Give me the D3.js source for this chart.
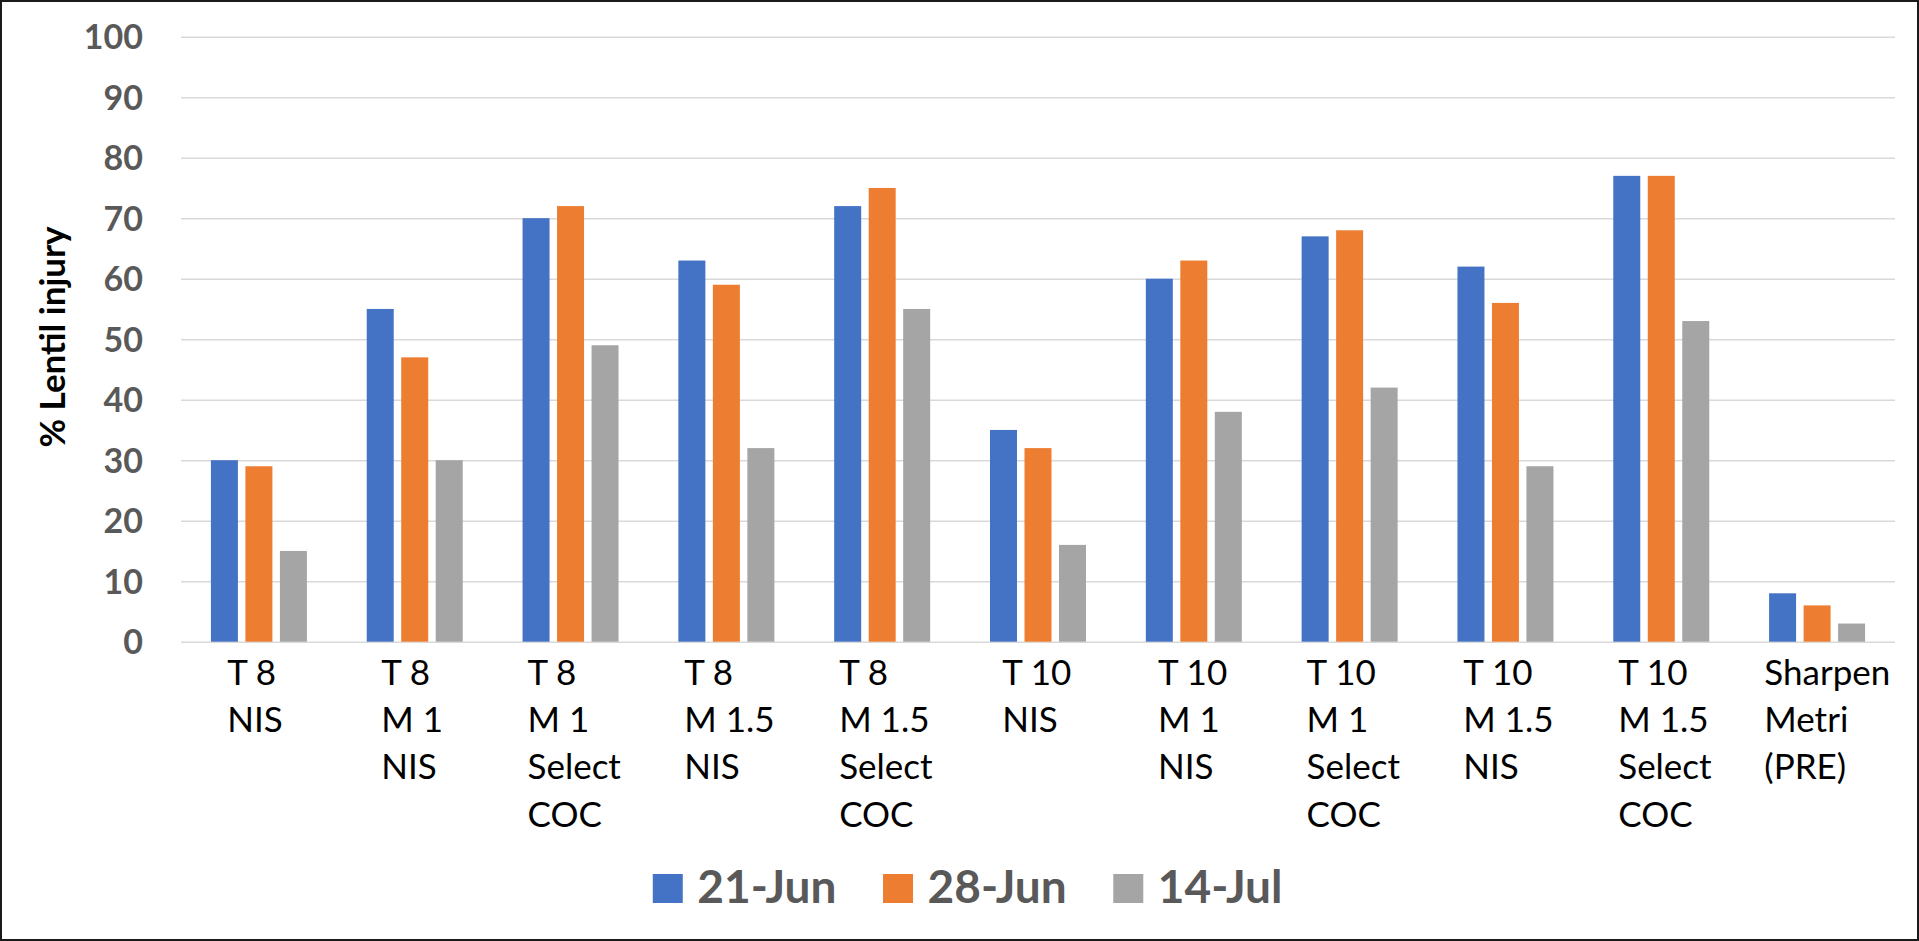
<!DOCTYPE html>
<html>
<head>
<meta charset="utf-8">
<script src="https://cdn.jsdelivr.net/npm/d3@7"></script>
<style>
  html, body { margin: 0; padding: 0; background: #ffffff; }
  svg { display: block; }
</style>
</head>
<body>
<svg id="chart" width="1919" height="941"></svg>
<script>
// Treatments (multi-line category labels)
const categories = [
  ["T 8", "NIS"],
  ["T 8", "M 1", "NIS"],
  ["T 8", "M 1", "Select", "COC"],
  ["T 8", "M 1.5", "NIS"],
  ["T 8", "M 1.5", "Select", "COC"],
  ["T 10", "NIS"],
  ["T 10", "M 1", "NIS"],
  ["T 10", "M 1", "Select", "COC"],
  ["T 10", "M 1.5", "NIS"],
  ["T 10", "M 1.5", "Select", "COC"],
  ["Sharpen", "Metri", "(PRE)"]
];

// Rating dates
const seriesNames = ["21-Jun", "28-Jun", "14-Jul"];

// % lentil injury per rating date
const injury21Jun = [30, 55, 70, 63, 72, 35, 60, 67, 62, 77, 8];
const injury28Jun = [29, 47, 72, 59, 75, 32, 63, 68, 56, 77, 6];
const injury14Jul = [15, 30, 49, 32, 55, 16, 38, 42, 29, 53, 3];

const seriesColors = ["#4472C4", "#ED7D31", "#A5A5A5"];

const yTicks = [0, 10, 20, 30, 40, 50, 60, 70, 80, 90, 100];
const yTitle = "% Lentil injury";

const seriesValues = [injury21Jun, injury28Jun, injury14Jul];
const catKeys = categories.map(c => c.join(" "));

const svg = d3.select("#chart");
const W = 1919, H = 941;

// chart frame
svg.append("rect")
  .attr("x", 0).attr("y", 0).attr("width", W).attr("height", H)
  .attr("fill", "#ffffff");

const plot = { left: 181, right: 1895, top: 36.7, bottom: 641.7 };

const x0 = d3.scaleBand().domain(catKeys).range([plot.left, plot.right]).padding(0);
const x1 = d3.scaleBand().domain(seriesNames).range([0, x0.bandwidth()])
  .paddingInner(0.2174).paddingOuter(0.867);
const y = d3.scaleLinear().domain([0, 100]).range([plot.bottom, plot.top]);

// gridlines
const grid = d3.axisLeft(y).tickValues(yTicks).tickSize(-(plot.right - plot.left)).tickFormat("");
const gridG = svg.append("g").attr("transform", `translate(${plot.left},0)`).call(grid);
gridG.select(".domain").remove();
gridG.selectAll(".tick line").attr("stroke", "#d9d9d9").attr("stroke-width", 1.4);

// y tick labels
const yAxis = d3.axisLeft(y).tickValues(yTicks).tickSize(0).tickPadding(0);
const yG = svg.append("g").attr("transform", "translate(143,0)").call(yAxis);
yG.select(".domain").remove();
yG.selectAll(".tick text")
  .attr("font-family", "Lato, 'Open Sans', sans-serif")
  .attr("font-weight", 700)
  .attr("font-size", 34)
  .attr("fill", "#595959")
  .attr("dy", null)
  .attr("y", 12)
  .attr("text-anchor", "end");

// bars
const groups = svg.append("g").selectAll("g")
  .data(catKeys)
  .join("g")
  .attr("transform", d => `translate(${x0(d)},0)`);

groups.selectAll("rect")
  .data((d, i) => seriesNames.map((s, j) => ({ s, j, v: seriesValues[j][i] })))
  .join("rect")
  .attr("x", d => x1(d.s))
  .attr("width", x1.bandwidth())
  .attr("y", d => y(d.v))
  .attr("height", d => y(0) - y(d.v))
  .attr("fill", d => seriesColors[d.j]);

// category labels: lines left-aligned, block roughly centered on the group
const catFont = "Lato, 'Open Sans', sans-serif";
const catG = svg.append("g");
categories.forEach((lines, i) => {
  const cx = x0(catKeys[i]) + x0.bandwidth() / 2;
  const t = catG.append("text")
    .attr("font-family", catFont)
    .attr("font-size", 35)
    .attr("fill", "#000000");
  lines.forEach((ln, k) => {
    t.append("tspan").attr("x", 0).attr("y", 685 + k * 47.2).text(ln);
  });
  let maxW = 0;
  t.selectAll("tspan").each(function () {
    maxW = Math.max(maxW, this.getComputedTextLength());
  });
  const left = cx - (0.3 * maxW + 15);
  t.selectAll("tspan").attr("x", left);
});

// y axis title
svg.append("text")
  .attr("transform", "translate(65,337) rotate(-90)")
  .attr("text-anchor", "middle")
  .attr("font-family", "Lato, 'Open Sans', sans-serif")
  .attr("font-weight", 700)
  .attr("font-size", 35)
  .attr("fill", "#000000")
  .text(yTitle);

// legend
const legend = svg.append("g");
const legItems = legend.selectAll("g").data(seriesNames).join("g");
legItems.append("rect")
  .attr("width", 30).attr("height", 29)
  .attr("y", 874)
  .attr("fill", (d, i) => seriesColors[i]);
legItems.append("text")
  .attr("y", 903)
  .attr("font-family", "Lato, 'Open Sans', sans-serif")
  .attr("font-weight", 700)
  .attr("font-size", 46)
  .attr("fill", "#595959")
  .text(d => d);

const sq = 30, gapIn = 14.5, gapOut = 46.6;
const widths = [];
legItems.select("text").each(function () { widths.push(this.getComputedTextLength()); });
const total = widths.reduce((a, w) => a + sq + gapIn + w, 0) + gapOut * (widths.length - 1);
let lx = 967.6 - total / 2;
legItems.each(function (d, i) {
  const g = d3.select(this);
  g.select("rect").attr("x", lx);
  g.select("text").attr("x", lx + sq + gapIn);
  lx += sq + gapIn + widths[i] + gapOut;
});

// outer border
svg.append("rect")
  .attr("x", 1).attr("y", 1).attr("width", W - 2).attr("height", H - 2)
  .attr("fill", "none").attr("stroke", "#1a1a1a").attr("stroke-width", 2);
</script>
</body>
</html>
